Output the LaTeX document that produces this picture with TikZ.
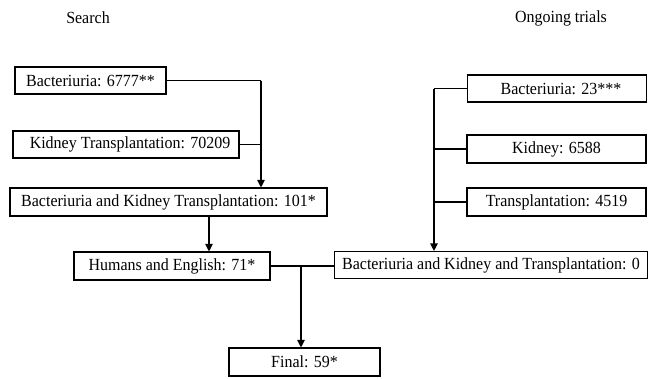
\documentclass[tikz,border=0pt]{standalone}
\usepackage{fontspec}
\setmainfont{Liberation Serif}[FakeStretch=0.94]
\usetikzlibrary{arrows.meta}
\begin{document}
\begin{tikzpicture}[x=1pt,y=-1pt,
  every node/.style={font=\fontsize{17}{20}\selectfont},
  box/.style={draw, line width=1.1pt, inner sep=0pt, anchor=center},
  conn/.style={line width=1.1pt},
  arr/.style={conn, -{Triangle[length=7.5pt,width=7.5pt]}}]
\useasboundingbox (0,0) rectangle (648,378);
\node (search) at (88,18) {Search};
\node (ongoing) at (561,18) {Ongoing trials};
\node[box, minimum width=151pt, minimum height=27pt] (b1) at (90.5,80.5) {Bacteriuria: 6777**};
\node[box, minimum width=226pt, minimum height=27pt] (b2) at (126,144.5) {\hspace*{8pt}Kidney Transplantation: 70209};
\node[box, minimum width=317pt, minimum height=28pt] (b3) at (168.5,202) {Bacteriuria and Kidney Transplantation: 101*};
\node[box, minimum width=196pt, minimum height=28pt] (b4) at (172,266) {Humans and English: 71*};
\node[box, minimum width=151pt, minimum height=28pt] (b5) at (304.5,362) {Final: 59*};
\node[box, minimum width=179pt, minimum height=27pt] (b6) at (557,88.5) {\hspace*{8pt}Bacteriuria: 23***};
\node[box, minimum width=179pt, minimum height=28pt] (b7) at (556.5,149) {Kidney: 6588};
\node[box, minimum width=179pt, minimum height=28pt] (b8) at (556.5,202) {Transplantation: 4519};
\node[box, minimum width=313pt, minimum height=27pt] (b9) at (491,265) {Bacteriuria and Kidney and Transplantation: 0};
\coordinate (j1) at (261,80.5);
\coordinate (j2) at (301,266);
\coordinate (j3) at (434,88.5);
\draw[conn] (b1.east) -- (j1);
\draw[arr] (j1) -- (j1 |- b3.north);
\draw[conn] (b2.east) -- (b2.east -| j1);
\draw[arr] (b3.south -| 209,0) -- (b4.north -| 209,0);
\draw[conn] (b4.east) -- (b4.east -| b9.west);
\draw[arr] (j2) -- (j2 |- b5.north);
\draw[conn] (b6.west) -- (j3);
\draw[arr] (j3) -- (j3 |- b9.north);
\draw[conn] (b7.west) -- (b7.west -| j3);
\draw[conn] (b8.west) -- (b8.west -| j3);
\end{tikzpicture}
\end{document}
